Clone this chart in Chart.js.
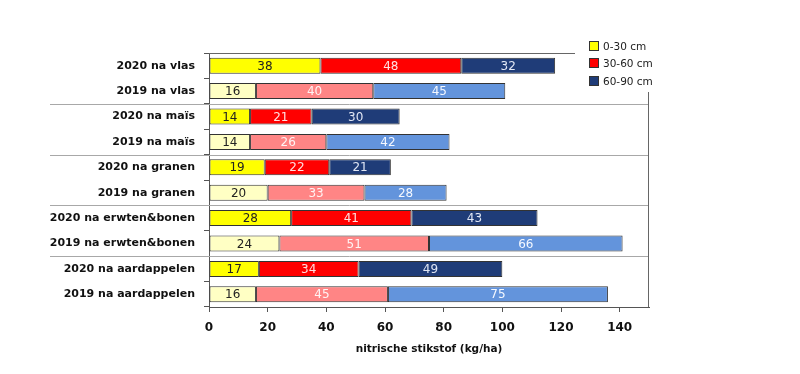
<!DOCTYPE html>
<html>
<head>
<meta charset="utf-8">
<script src="https://cdn.jsdelivr.net/npm/chart.js@4"></script>
<style>
  html, body { margin: 0; padding: 0; background: #fff; }
  #wrap { position: relative; width: 800px; height: 374px; }
  #legend { position: absolute; left: 589px; top: 37px; font: 10.5px "DejaVu Sans", sans-serif; color: #222; }
  #legend div { height: 17.6px; display: flex; align-items: center; }
  #legend span { display: inline-block; width: 8px; height: 8px; border: 1px solid #333; margin-right: 4px; }
</style>
</head>
<body>
<div id="wrap">
  <canvas id="myChart" width="800" height="374"></canvas>
  <div id="legend"></div>
</div>
<script>
// categorieen (van boven naar onder)
const labels = ['2020 na vlas', '2019 na vlas', '2020 na maïs', '2019 na maïs', '2020 na granen', '2019 na granen',
  '2020 na erwten&bonen', '2019 na erwten&bonen', '2020 na aardappelen', '2019 na aardappelen']
const lagen = ['0-30 cm', '30-60 cm', '60-90 cm']
const laag1 = [38, 16, 14, 14, 19, 20, 28, 24, 17, 16]
const laag2 = [48, 40, 21, 26, 22, 33, 41, 51, 34, 45]
const laag3 = [32, 45, 30, 42, 21, 28, 43, 66, 49, 75]
const xTicks = [0, 20, 40, 60, 80, 100, 120, 140]

// kleur 2020 / 2019
const kleuren = [['#ffff00', '#ffffc4'], ['#ff0000', '#ff8585'], ['#1f3c78', '#6394dc']]
const tekstKleur = [['#222', '#222'], ['#ffe0e0', '#fff4f4'], ['#e0e6f4', '#f4f8ff']]

const ctx = document.getElementById('myChart')

let legend = document.getElementById('legend')
lagen.forEach((l, i) => {
  legend.innerHTML += `<div><span style="background:${kleuren[i][0]}"></span>${l}</div>`
})

const deco = {
  id: 'deco',
  beforeDatasetsDraw(chart) {
    const c = chart.ctx
    const a = chart.chartArea
    const y = chart.scales.y
    c.save()
    c.lineWidth = 1
    c.strokeStyle = '#a8a8a8'
    ;[1, 3, 5, 7].forEach(i => {
      const py = Math.round((y.getPixelForValue(i) + y.getPixelForValue(i + 1)) / 2) + 0.5
      c.beginPath()
      c.moveTo(50, py)
      c.lineTo(a.right, py)
      c.stroke()
    })
    c.strokeStyle = '#666'
    c.beginPath()
    c.moveTo(a.left, Math.round(a.top) + 0.5)
    c.lineTo(575, Math.round(a.top) + 0.5)
    c.stroke()
    c.beginPath()
    c.moveTo(Math.round(a.right) - 0.5, 92)
    c.lineTo(Math.round(a.right) - 0.5, a.bottom)
    c.stroke()
    c.restore()
  },
  afterDatasetsDraw(chart) {
    const c = chart.ctx
    c.save()
    c.font = '12px "DejaVu Sans"'
    c.textAlign = 'center'
    c.textBaseline = 'middle'
    chart.data.datasets.forEach((ds, d) => {
      chart.getDatasetMeta(d).data.forEach((bar, i) => {
        c.fillStyle = tekstKleur[d][i % 2]
        c.fillText(ds.data[i], (bar.x + bar.base) / 2, bar.y + 1)
      })
    })
    c.restore()
  }
}

new Chart(ctx, {
  type: 'bar',
  data: {
    labels: labels,
    datasets: [laag1, laag2, laag3].map((d, k) => ({
      label: lagen[k],
      data: d,
      backgroundColor: d.map((v, i) => kleuren[k][i % 2]),
      borderColor: '#333',
      borderWidth: 1,
      borderSkipped: false,
      barPercentage: 0.63,
      categoryPercentage: 1
    }))
  },
  options: {
    indexAxis: 'y',
    responsive: false,
    animation: false,
    devicePixelRatio: 1,
    layout: { padding: { left: 0, right: 151, top: 53, bottom: 14 } },
    plugins: { legend: { display: false }, tooltip: { enabled: false } },
    scales: {
      x: {
        stacked: true,
        min: 0,
        max: 150,
        afterBuildTicks: s => { s.ticks = xTicks.map(v => ({ value: v })) },
        afterFit: s => { s.height = 53 },
        grid: { drawOnChartArea: false, tickLength: 5, color: '#555' },
        border: { color: '#555' },
        ticks: { color: '#111', padding: 9, font: { family: 'DejaVu Sans', size: 12, weight: 'bold' } },
        title: {
          display: true,
          text: 'nitrische stikstof (kg/ha)',
          color: '#111',
          padding: { top: 2, bottom: 4 },
          font: { family: 'DejaVu Sans', size: 10.5, weight: 'bold' }
        }
      },
      y: {
        stacked: true,
        afterFit: s => { s.width = 209 },
        grid: { offset: true, drawOnChartArea: false, tickLength: 5, color: '#555' },
        border: { color: '#555' },
        ticks: { color: '#111', padding: 9, font: { family: 'DejaVu Sans', size: 11, weight: 'bold' } }
      }
    }
  },
  plugins: [deco]
})
</script>
</body>
</html>
